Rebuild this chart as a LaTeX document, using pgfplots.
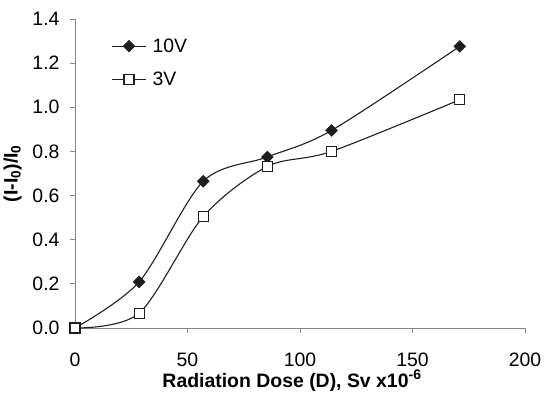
\documentclass[border=0pt]{standalone}
\usepackage{fontspec}
\setmainfont{Liberation Sans}
\usepackage{pgfplots}
\pgfplotsset{compat=1.18}

\definecolor{axgray}{RGB}{134,134,134}
\definecolor{ink}{RGB}{30,30,30}

\begin{document}
\begin{tikzpicture}
\begin{axis}[
    at={(0,0)}, anchor=south west,
    scale only axis,
    width=450bp, height=309bp,
    xmin=0, xmax=200, ymin=0, ymax=1.4,
    axis lines=left,
    axis line style={axgray, line width=0.8pt, -},
    xtick={0,50,...,200},
    ytick={0,0.2,...,1.4},
    tick align=outside,
    major tick length=5bp,
    tick style={axgray, line width=0.8pt},
    tick label style={font=\fontsize{19.5}{22}\selectfont},
    label style={font=\fontsize{19.5}{22}\selectfont\bfseries},
    /pgf/number format/assume math mode=true,
    yticklabel style={xshift=-7bp, /pgf/number format/.cd, fixed, fixed zerofill, precision=1},
    xticklabel style={yshift=-16bp},
    xlabel={Radiation Dose (D), Sv x10\textsuperscript{\fontsize{14}{16}\selectfont -6}},
    ylabel={(I-I\textsubscript{0})/I\textsubscript{0}},
    xlabel style={yshift=3bp, xshift=-8bp},
    ylabel style={yshift=4bp},
    legend style={at={(0.074,0.95)}, anchor=north west, draw=none, fill=none,
        font=\fontsize{19.5}{22}\selectfont, row sep=14bp,
        nodes={inner xsep=6bp}},
    legend cell align=left,
    legend image code/.code={\draw[mark repeat=2,mark phase=2] plot coordinates {(0bp,0bp)(17bp,0bp)(34bp,0bp)};},
]
\addplot[ink, line width=1.1pt, smooth, tension=0.5, mark=square*, mark size=3.9bp,
    mark options={rotate=45, fill=ink, solid}]
    coordinates {(0,0) (28.5,0.209) (57,0.665) (85.5,0.775) (114,0.895) (171,1.276)};
\addlegendentry{10V}
\addplot[ink, line width=1.1pt, smooth, tension=0.5, mark=square*, mark size=5bp,
    mark options={fill=white, solid, line width=1.1pt}]
    coordinates {(0,0) (28.5,0.067) (57,0.505) (85.5,0.732) (114,0.800) (171,1.034)};
\addlegendentry{3V}
\end{axis}
\path[use as bounding box] (-75bp,-75bp) rectangle (475bp,328bp);
\end{tikzpicture}
\end{document}
